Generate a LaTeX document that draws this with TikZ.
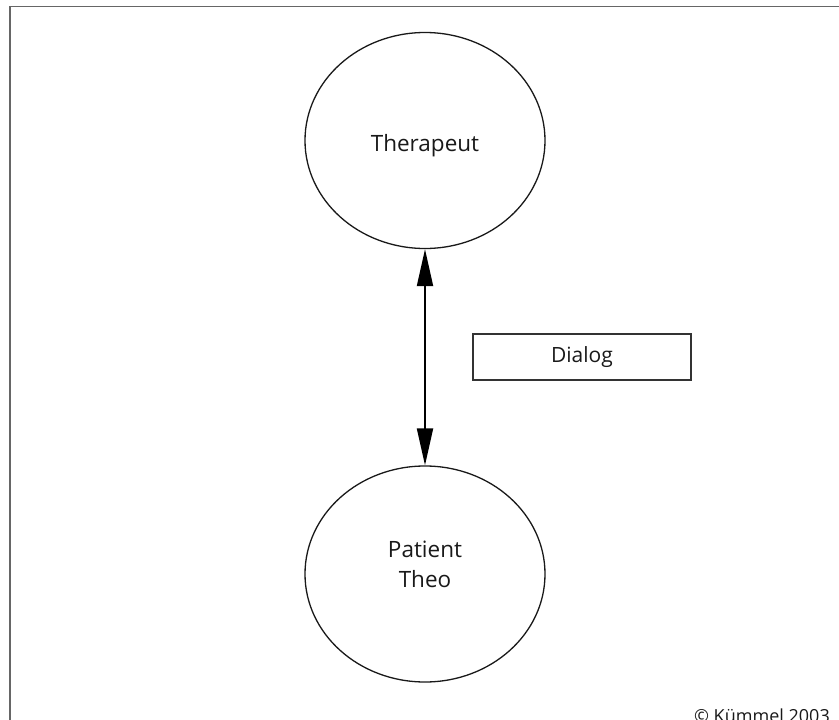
\documentclass[tikz,border=0pt]{standalone}
\usepackage{fontspec}
\setmainfont{Open Sans}
\usetikzlibrary{arrows.meta,shapes.geometric}
\begin{document}
\begin{tikzpicture}[x=1pt,y=-1pt,
  lbl/.style={font=\fontsize{22.5}{30}\selectfont, align=center, text=black!90},
  bubble/.style={draw=black!90, line width=1.3pt, ellipse, minimum width=240pt, minimum height=216pt, inner sep=0pt},
  tagbox/.style={draw=black!80, line width=1.3pt, minimum width=218pt, minimum height=46pt, inner sep=0pt},
  dlg/.style={line width=2pt, {Triangle[length=37pt,width=16pt]}-{Triangle[length=37pt,width=16pt]}}
]
\useasboundingbox (0,0) rectangle (839,720);
\draw[black!60, line width=1.6pt] (10,730) -- (10,6.5) -- (845,6.5);
\node[bubble] (t) at (425,140.5) {};
\node[lbl] (tl) at (425,146) {Therapeut};
\node[bubble] (p) at (425,574) {};
\node[lbl] (pl) at (425,564) {Patient\\Theo};
\node[tagbox, font=\fontsize{21}{26}\selectfont, text=black!90] (d) at (582,357) {Dialog};
\draw[dlg] (t.south) -- (p.north);
\node[font=\fontsize{18}{22}\selectfont, anchor=base east, text=black!90, inner sep=0pt] (c) at (830,722) {© Kümmel 2003};
\end{tikzpicture}
\end{document}
